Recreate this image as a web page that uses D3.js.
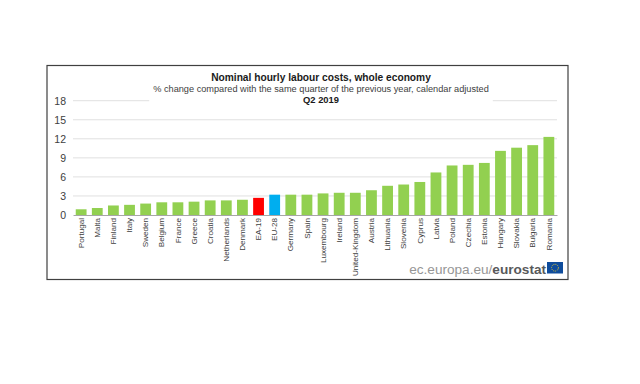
<!DOCTYPE html>
<html lang="en">
    <head>
        <title>Nominal hourly labour costs</title>
        <meta charset="utf-8">
        <script src="https://d3js.org/d3.v7.min.js"></script>
        <style>
            * {
                margin: 0;
                padding: 0;
            }
            body {
                background-color: white;
                overflow: hidden;
            }
            svg {
                display: block;
                font-family: "Liberation Sans", Arial, sans-serif;
            }
        </style>
    </head>
    <body>
        <script>

            const countries = ["Portugal", "Malta", "Finland", "Italy", "Sweden", "Belgium", "France", "Greece",
                "Croatia", "Netherlands", "Denmark", "EA-19", "EU-28", "Germany", "Spain", "Luxembourg", "Ireland",
                "United-Kingdom", "Austria", "Lithuania", "Slovenia", "Cyprus", "Latvia", "Poland", "Czechia",
                "Estonia", "Hungary", "Slovakia", "Bulgaria", "Romania"];
            const changes = [0.9, 1.1, 1.5, 1.6, 1.8, 2.0, 2.0, 2.1, 2.3, 2.3, 2.4, 2.7, 3.2, 3.2, 3.2, 3.4, 3.5,
                3.5, 3.9, 4.6, 4.8, 5.2, 6.7, 7.8, 7.9, 8.2, 10.1, 10.6, 11.0, 12.3];
            const yTicks = [0, 3, 6, 9, 12, 15, 18];

            const w = 640;
            const h = 384;
            const green = "#92d050";
            const textColor = "#404040";

            const barColor = (name) => {
                if (name === "EA-19") return "#ff0000";
                if (name === "EU-28") return "#00aeef";
                return green;
            };

            const svg = d3.select("body")
                .append("svg")
                .attr("width", w)
                .attr("height", h);

            const xScale = d3.scaleBand()
                .domain(countries)
                .range([73, 557])
                .paddingInner(0.33)
                .paddingOuter(0.17);

            const yScale = d3.scaleLinear()
                .domain([0, 18])
                .range([215, 100.7]);

            // frame
            svg.append("rect")
                .attr("x", 47)
                .attr("y", 65.5)
                .attr("width", 521)
                .attr("height", 214)
                .attr("fill", "white")
                .attr("stroke", "#404040")
                .attr("stroke-width", 1.2);

            // grid lines
            svg.append("g")
                .selectAll("line")
                .data(yTicks.filter(d => d > 0))
                .enter()
                .append("line")
                .attr("x1", 73)
                .attr("x2", 557)
                .attr("y1", d => yScale(d))
                .attr("y2", d => yScale(d))
                .attr("stroke", "#e0e0e0")
                .attr("stroke-width", 1);

            // titles, with a white box that hides the top grid line
            const titleBox = svg.append("rect").attr("fill", "white");

            const titles = svg.append("g")
                .attr("text-anchor", "middle")
                .attr("fill", "#1a1a1a");

            titles.append("text")
                .attr("x", 321)
                .attr("y", 81)
                .attr("font-size", "10.2px")
                .attr("font-weight", "bold")
                .text("Nominal hourly labour costs, whole economy");

            titles.append("text")
                .attr("x", 321)
                .attr("y", 92)
                .attr("font-size", "9.2px")
                .attr("fill", textColor)
                .text("% change compared with the same quarter of the previous year, calendar adjusted");

            titles.append("text")
                .attr("x", 321)
                .attr("y", 102.5)
                .attr("font-size", "9.4px")
                .attr("font-weight", "bold")
                .text("Q2 2019");

            const bb = titles.node().getBBox();
            titleBox
                .attr("x", bb.x - 4)
                .attr("y", bb.y)
                .attr("width", bb.width + 8)
                .attr("height", bb.height);

            // bars
            svg.append("g")
                .selectAll("rect")
                .data(countries)
                .enter()
                .append("rect")
                .attr("x", d => xScale(d))
                .attr("y", (d, i) => yScale(changes[i]))
                .attr("width", xScale.bandwidth())
                .attr("height", (d, i) => yScale(0) - yScale(changes[i]))
                .attr("fill", d => barColor(d));

            // axes
            const yAxis = d3.axisLeft(yScale)
                .tickValues(yTicks)
                .tickSize(0)
                .tickPadding(7);

            const yG = svg.append("g")
                .attr("transform", "translate(73, 0)")
                .call(yAxis);
            yG.select(".domain").remove();
            yG.selectAll("text")
                .attr("font-family", "inherit")
                .attr("font-size", "10.5px")
                .attr("fill", textColor);

            const xAxis = d3.axisBottom(xScale)
                .tickSize(0);

            const xG = svg.append("g")
                .attr("transform", "translate(0, 215)")
                .call(xAxis);
            xG.select(".domain")
                .attr("stroke", "#a6a6a6");
            xG.selectAll("text")
                .attr("font-family", "inherit")
                .attr("font-size", "8.1px")
                .attr("fill", textColor)
                .attr("text-anchor", "end")
                .attr("dy", "0.33em")
                .attr("transform", "translate(0, 3) rotate(-90)")
                .attr("x", 0)
                .attr("y", 0);

            // eurostat footer
            const footer = svg.append("text")
                .attr("x", 546)
                .attr("y", 274)
                .attr("text-anchor", "end")
                .attr("font-size", "13.6px")
                .attr("fill", "#969696");
            footer.append("tspan").text("ec.europa.eu/");
            footer.append("tspan")
                .attr("font-weight", "bold")
                .attr("fill", "#58595b")
                .text("eurostat");

            svg.append("rect")
                .attr("x", 547)
                .attr("y", 262)
                .attr("width", 16)
                .attr("height", 11.5)
                .attr("fill", "#0f4c9c");

            svg.append("circle")
                .attr("cx", 555)
                .attr("cy", 267.7)
                .attr("r", 3.4)
                .attr("fill", "none")
                .attr("stroke", "#e3c832")
                .attr("stroke-width", 1)
                .attr("stroke-dasharray", "1 1");

        </script>
    </body>
</html>
